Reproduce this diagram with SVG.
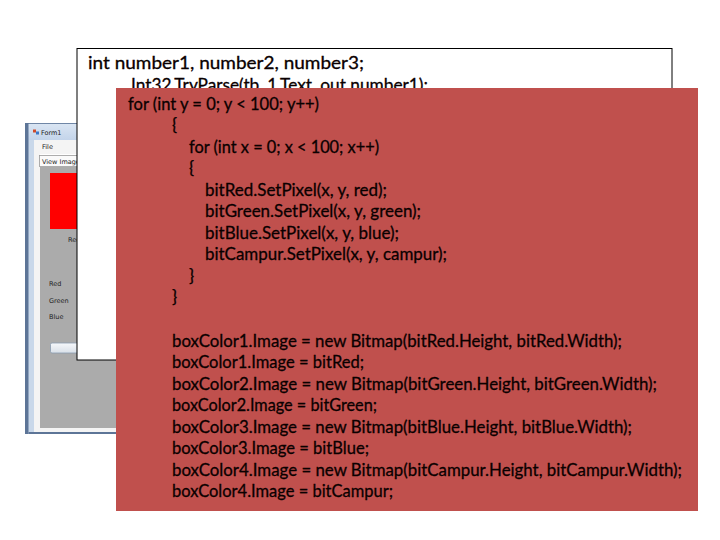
<svg xmlns="http://www.w3.org/2000/svg" width="720" height="540" viewBox="0 0 720 540">
<defs>
<linearGradient id="title" x1="0" y1="0" x2="0" y2="1">
<stop offset="0" stop-color="#dbe6f3"/>
<stop offset="1" stop-color="#c3d4ea"/>
</linearGradient>
<linearGradient id="btn" x1="0" y1="0" x2="0" y2="1">
<stop offset="0" stop-color="#f6f8fb"/>
<stop offset="1" stop-color="#d9e0e8"/>
</linearGradient>
<style>
.code{font-family:Lato,"Liberation Sans",sans-serif;font-size:17px;fill:#0a0000;stroke:#0a0000;stroke-width:0.3px;}
.ui{font-family:"DejaVu Sans","Liberation Sans",sans-serif;font-size:6.5px;fill:#222;}
</style>
</defs>
<rect width="720" height="540" fill="#ffffff"/>
<g id="form-screenshot">
<rect x="25" y="123" width="120" height="311" fill="#c9d8ea"/>
<rect x="25" y="123" width="120" height="17" fill="url(#title)"/>
<line x1="25" y1="123.5" x2="145" y2="123.5" stroke="#6f86a6" stroke-width="1"/>
<rect x="25" y="123" width="3.5" height="311" fill="#5d7597"/>
<rect x="34" y="140" width="111" height="292" fill="#f4f4f4"/>
<rect x="40" y="154" width="105" height="274" fill="#ffffff"/>
<rect x="40" y="167" width="105" height="261" fill="#ababab"/>
<rect x="28.5" y="432" width="117" height="2" fill="#5d7597"/>
<rect x="33" y="129.5" width="3" height="3" fill="#d04a2a"/>
<rect x="36" y="131.5" width="3" height="3" fill="#3a78c8"/>
<text class="ui" x="41" y="134.5">Form1</text>
<text class="ui" x="42" y="149">File</text>
<rect x="39.5" y="155.5" width="40" height="11" fill="#fafafa" stroke="#9a9a9a" stroke-width="0.8"/>
<text class="ui" x="42" y="163.5">View Image</text>
<rect x="50" y="173" width="40" height="56" fill="#ff0000"/>
<text class="ui" x="68" y="242">Red</text>
<text class="ui" x="49" y="285.5">Red</text>
<text class="ui" x="49" y="303">Green</text>
<text class="ui" x="49" y="319">Blue</text>
<rect x="50.5" y="343" width="40" height="10" rx="1.5" fill="url(#btn)" stroke="#8a9cb0" stroke-width="0.8"/>
</g>
<g id="code-box">
<rect x="77" y="48.5" width="595" height="311.5" fill="#ffffff" stroke="#000000" stroke-width="1"/>
<text class="code" x="88" y="69" textLength="276" lengthAdjust="spacingAndGlyphs">int number1, number2, number3;</text>
<text class="code" x="131" y="90.5" textLength="297" lengthAdjust="spacingAndGlyphs">Int32.TryParse(tb_1.Text, out number1);</text>
</g>
<g id="loop-box">
<rect x="116" y="88" width="582" height="423" fill="#c0504d"/>
<text class="code" x="128" y="109.5" textLength="191" lengthAdjust="spacingAndGlyphs">for (int y = 0; y &lt; 100; y++)</text>
<text class="code" x="172" y="131">{</text>
<text class="code" x="189" y="152.5" textLength="190" lengthAdjust="spacingAndGlyphs">for (int x = 0; x &lt; 100; x++)</text>
<text class="code" x="189" y="174">{</text>
<text class="code" x="205" y="195.5" textLength="182" lengthAdjust="spacingAndGlyphs">bitRed.SetPixel(x, y, red);</text>
<text class="code" x="205" y="217" textLength="216" lengthAdjust="spacingAndGlyphs">bitGreen.SetPixel(x, y, green);</text>
<text class="code" x="205" y="238.5" textLength="194" lengthAdjust="spacingAndGlyphs">bitBlue.SetPixel(x, y, blue);</text>
<text class="code" x="205" y="260" textLength="242" lengthAdjust="spacingAndGlyphs">bitCampur.SetPixel(x, y, campur);</text>
<text class="code" x="189" y="281.5">}</text>
<text class="code" x="172" y="303">}</text>
<text class="code" x="172" y="346.5" textLength="450" lengthAdjust="spacingAndGlyphs">boxColor1.Image = new Bitmap(bitRed.Height, bitRed.Width);</text>
<text class="code" x="172" y="368" textLength="192" lengthAdjust="spacingAndGlyphs">boxColor1.Image = bitRed;</text>
<text class="code" x="172" y="389.5" textLength="485" lengthAdjust="spacingAndGlyphs">boxColor2.Image = new Bitmap(bitGreen.Height, bitGreen.Width);</text>
<text class="code" x="172" y="411" textLength="205" lengthAdjust="spacingAndGlyphs">boxColor2.Image = bitGreen;</text>
<text class="code" x="172" y="432.5" textLength="460" lengthAdjust="spacingAndGlyphs">boxColor3.Image = new Bitmap(bitBlue.Height, bitBlue.Width);</text>
<text class="code" x="172" y="454" textLength="197" lengthAdjust="spacingAndGlyphs">boxColor3.Image = bitBlue;</text>
<text class="code" x="172" y="475.5" textLength="510" lengthAdjust="spacingAndGlyphs">boxColor4.Image = new Bitmap(bitCampur.Height, bitCampur.Width);</text>
<text class="code" x="172" y="497" textLength="221" lengthAdjust="spacingAndGlyphs">boxColor4.Image = bitCampur;</text>
</g>
</svg>
